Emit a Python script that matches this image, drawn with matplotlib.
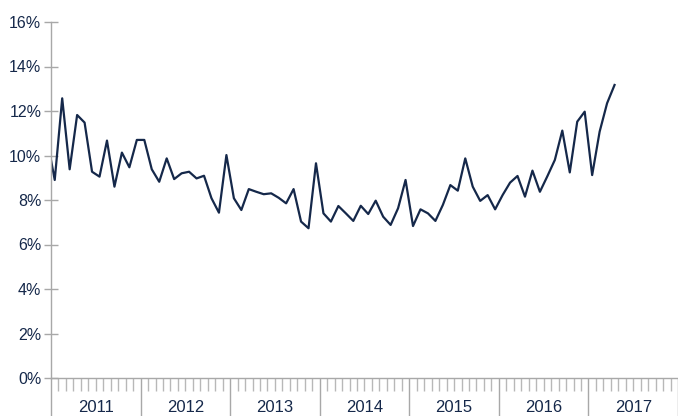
import matplotlib
matplotlib.use("Agg")
import matplotlib.pyplot as plt
import numpy as np

# monthly values, Dec 2010 .. Apr 2017 (first one is clipped by the axis)
values = [10.7,
          8.9, 12.57, 9.38, 11.82, 11.48, 9.27, 9.05, 10.67, 8.6, 10.13, 9.47, 10.7,
          10.7, 9.38, 8.82, 9.87, 8.94, 9.2, 9.27, 8.97, 9.09, 8.08, 7.43, 10.02,
          8.08, 7.55, 8.49, 8.37, 8.26, 8.3, 8.1, 7.85, 8.49, 7.03, 6.73, 9.65,
          7.4, 7.03, 7.73, 7.4, 7.06, 7.74, 7.37, 7.97, 7.25, 6.88, 7.63, 8.9,
          6.83, 7.58, 7.4, 7.06, 7.78, 8.67, 8.42, 9.87, 8.6, 7.96, 8.22, 7.58,
          8.22, 8.78, 9.08, 8.15, 9.32, 8.37, 9.07, 9.8, 11.12, 9.24, 11.52, 11.97,
          9.12, 11.07, 12.35, 13.17]
years = [2011, 2012, 2013, 2014, 2015, 2016, 2017]
yticks = [0, 2, 4, 6, 8, 10, 12, 14, 16]

navy = "#15284a"
grey = "#a8a8a8"
plt.rcParams['font.family'] = ['Liberation Sans', 'DejaVu Sans']

# x in months since Jan 2011, points in the middle of each month
months = np.arange(len(values)) - 1 + 0.5

fig = plt.figure(figsize=(6.78, 4.16), dpi=100)
ax = fig.add_axes([51 / 678, 38 / 416, 627 / 678, 356 / 416])
ax.plot(months, values, color=navy, lw=1.6, solid_joinstyle='round')

ax.set_xlim(0, 84)
ax.set_ylim(0, 16)
ax.set_yticks(yticks)
ax.set_yticklabels([str(t) + "%" for t in yticks])
ax.set_xticks(np.arange(0, 85, 12))
ax.set_xticklabels([])
ax.set_xticks(np.arange(0, 85, 1), minor=True)

for s in ["top", "right"]:
    ax.spines[s].set_visible(False)
for s in ["left", "bottom"]:
    ax.spines[s].set_color(grey)
    ax.spines[s].set_linewidth(1)

ax.tick_params(axis='y', direction='inout', length=10, width=1, color=grey,
               labelcolor=navy, labelsize=11.5, pad=2)
ax.tick_params(axis='x', which='major', direction='out', length=30, width=1, color=grey)
ax.tick_params(axis='x', which='minor', direction='out', length=9.5, width=1, color="#b8b8b8")

# year labels centered between the year ticks
for i, y in enumerate(years):
    ax.annotate(str(y), xy=(i * 12 + 6, 0), xycoords=('data', 'axes fraction'),
                xytext=(0, -24.5), textcoords='offset points',
                ha='center', va='baseline', color=navy, fontsize=12)

fig.savefig("out.png", dpi=100)
